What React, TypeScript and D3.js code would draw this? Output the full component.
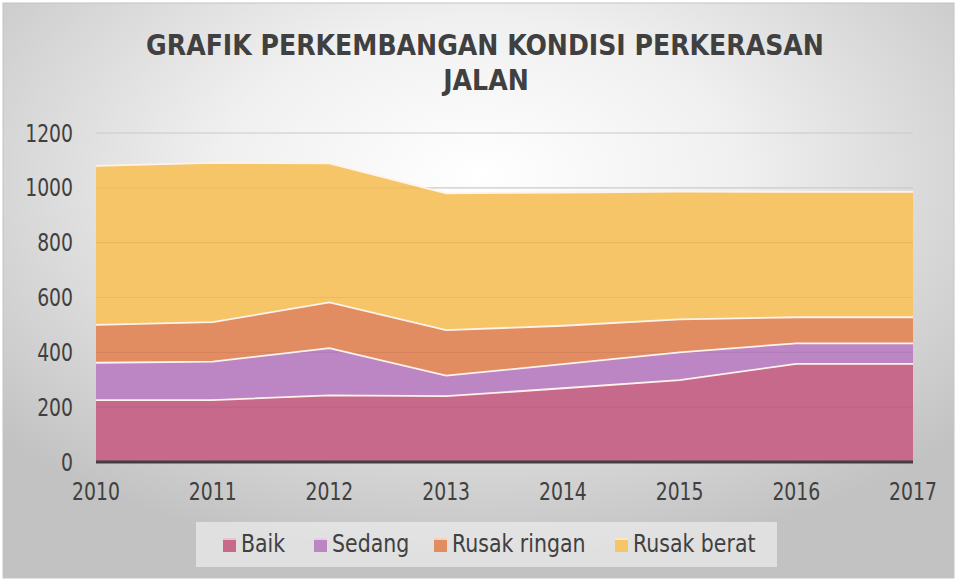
import React from 'react';
import * as d3 from 'd3';

const years = ['2010', '2011', '2012', '2013', '2014', '2015', '2016', '2017'];
const baik = [226, 226, 243, 240, 269, 299, 358, 358];
const sedang = [136, 140, 172, 75, 88, 101, 75, 75];
const rusakRingan = [138, 144, 167, 166, 140, 120, 95, 95];
const rusakBerat = [580, 581, 507, 499, 486, 466, 457, 457];
const seriesNames = ['Baik', 'Sedang', 'Rusak ringan', 'Rusak berat'];
const yTicks = [0, 200, 400, 600, 800, 1000, 1200];

const colors = ['#C6698B', '#BC86C5', '#E28C62', '#F6C567'];
const font = '"DejaVu Sans Condensed", "DejaVu Sans", sans-serif';

// text squeezed sideways, the original font is narrower than what we have
const Narrow = ({ x, y, anchor = 'start', size = 24, sx = 0.87, dy = '0', children }: any) => (
  <text
    transform={`translate(${x},${y}) scale(${sx},1)`}
    textAnchor={anchor}
    fontSize={size}
    dy={dy}
    fill="#404040"
  >
    {children}
  </text>
);

const App = () => {
  const W = 957;
  const H = 581;
  const margin = { top: 133, right: 44, bottom: 119, left: 96 };

  const rows = years.map((yr, i) => ({
    year: yr,
    Baik: baik[i],
    Sedang: sedang[i],
    'Rusak ringan': rusakRingan[i],
    'Rusak berat': rusakBerat[i],
  }));

  const x = d3.scalePoint().domain(years).range([margin.left, W - margin.right]);
  const y = d3.scaleLinear().domain([0, 1200]).range([H - margin.bottom, margin.top]);

  const stacked = d3.stack().keys(seriesNames)(rows as any);

  const area = d3.area<any>()
    .x((d) => x(d.data.year) as number)
    .y0((d) => y(d[0]))
    .y1((d) => y(d[1]));

  const topLine = d3.line<any>()
    .x((d) => x(d.data.year) as number)
    .y((d) => y(d[1]));

  const legendItems = [
    { name: 'Baik', sx: 223, tx: 241 },
    { name: 'Sedang', sx: 314, tx: 332 },
    { name: 'Rusak ringan', sx: 434, tx: 452 },
    { name: 'Rusak berat', sx: 615, tx: 633 },
  ];

  return (
    <svg
      width={W}
      height={H}
      style={{ position: 'absolute', left: 0, top: 0 }}
      fontFamily={font}
    >
      <defs>
        <radialGradient id="bg" cx="50%" cy="30%" r="68%">
          <stop offset="0%" stopColor="#ffffff" />
          <stop offset="40%" stopColor="#f0f0f0" />
          <stop offset="100%" stopColor="#c2c2c2" />
        </radialGradient>
      </defs>
      <rect x={0} y={0} width={W} height={H} fill="#ffffff" />
      <rect x={3} y={3} width={W - 6} height={H - 6} fill="url(#bg)" stroke="#c4c4c4" />

      <text x={485} y={55} textAnchor="middle" fontSize={28} fontWeight="bold" fill="#404040">
        GRAFIK PERKEMBANGAN KONDISI PERKERASAN
      </text>
      <text x={486} y={90} textAnchor="middle" fontSize={28} fontWeight="bold" fill="#404040">
        JALAN
      </text>

      {yTicks.map((t) => (
        <line key={'g' + t} x1={margin.left} x2={W - margin.right} y1={y(t)} y2={y(t)} stroke="#d6d6d6" strokeWidth={1.2} />
      ))}

      {stacked.map((s, i) => (
        <path key={'a' + i} d={area(s) as string} fill={colors[i]} />
      ))}

      {yTicks.slice(1).map((t) => (
        <line key={'f' + t} x1={margin.left} x2={W - margin.right} y1={y(t)} y2={y(t)} stroke="#000" strokeOpacity={0.05} strokeWidth={1.2} />
      ))}

      {stacked.map((s, i) => (
        <path key={'l' + i} d={topLine(s) as string} fill="none" stroke="#fdf3ea" strokeWidth={1.8} />
      ))}

      <line x1={margin.left} x2={W - margin.right} y1={y(0)} y2={y(0)} stroke="#404040" strokeWidth={3} />

      {yTicks.map((t) => (
        <Narrow key={'y' + t} x={73} y={y(t)} anchor="end" dy="0.36em">
          {t}
        </Narrow>
      ))}

      {years.map((yr) => (
        <Narrow key={'x' + yr} x={x(yr) as number} y={500} anchor="middle">
          {yr}
        </Narrow>
      ))}

      <rect x={196} y={522} width={581} height={45} fill="#f4f4f4" fillOpacity={0.6} />
      {legendItems.map((it, i) => (
        <g key={'lg' + i}>
          <rect x={it.sx} y={538} width={13} height={14} fill={colors[i]} />
          <rect x={it.sx} y={538} width={13} height={2} fill="#ffffff" fillOpacity={0.6} />
          <Narrow x={it.tx} y={552} sx={0.95}>
            {it.name}
          </Narrow>
        </g>
      ))}
    </svg>
  );
};

export default App;
